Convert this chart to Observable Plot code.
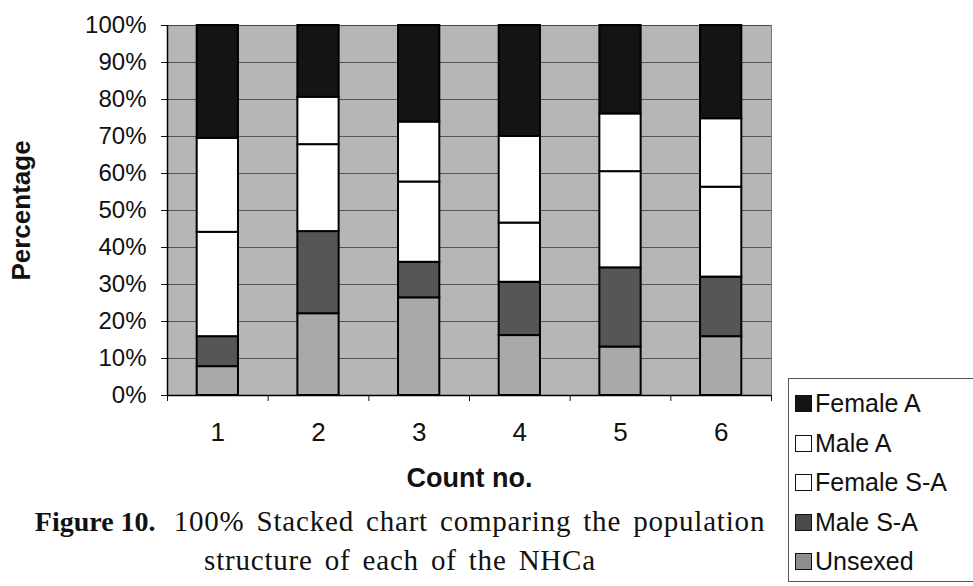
<!DOCTYPE html>
<html>
<head>
<meta charset="utf-8">
<script src="https://cdn.jsdelivr.net/npm/d3@7"></script>
<script src="https://cdn.jsdelivr.net/npm/@observablehq/plot@0.6"></script>
<style>
  body { margin: 0; background: white; }
  #wrap { position: relative; width: 973px; height: 586px; overflow: hidden; font-family: "Liberation Sans", Arial, sans-serif; }
  #caption { position: absolute; left: 30px; top: 502px; width: 740px; font-family: "Liberation Serif", "Times New Roman", serif; font-size: 29px; line-height: 38px; text-align: center; color: #111; white-space: nowrap; letter-spacing: 0.8px; word-spacing: 4px; }
  #caption b { font-size: 28px; letter-spacing: 0; word-spacing: 0; margin-right: 18px; }
  #legend { position: absolute; left: 788px; top: 378px; width: 190px; height: 204px; border: 1px solid #555; background: white; box-sizing: border-box; padding-top: 5px; }
  .item { display: flex; align-items: center; height: 39.5px; font-size: 25px; color: #111; padding-left: 6px; }
  .sw { width: 17px; height: 17px; border: 1px solid #111; box-sizing: border-box; margin-right: 3px; flex: none; }
</style>
</head>
<body>
<div id="wrap">
  <div id="chart"></div>
  <div id="caption"><b>Figure 10.</b>100% Stacked chart comparing the population<br>structure of each of the NHCa</div>
  <div id="legend"></div>
</div>
<script>
// Data (percentages)
const counts = [1, 2, 3, 4, 5, 6];
const series = ["Unsexed", "Male S-A", "Female S-A", "Male A", "Female A"];
const unsexed   = [7.8, 22.1, 26.4, 16.2, 13.1, 15.9];
const maleSA    = [8.1, 22.2,  9.6, 14.4, 21.4, 16.1];
const femaleSA  = [28.2, 23.5, 21.7, 16.0, 26.0, 24.3];
const maleA     = [25.4, 12.8, 16.2, 23.4, 15.6, 18.5];
const femaleA   = [30.5, 19.4, 26.1, 30.0, 23.9, 25.2];
const yTicks = [0, 10, 20, 30, 40, 50, 60, 70, 80, 90, 100];
const legendOrder = ["Female A", "Male A", "Female S-A", "Male S-A", "Unsexed"];

const valuesBySeries = {
  "Unsexed": unsexed, "Male S-A": maleSA, "Female S-A": femaleSA,
  "Male A": maleA, "Female A": femaleA
};
const colors = ["#a9a9a9", "#565656", "#ffffff", "#ffffff", "#141414"];
const swatch = {"Female A": "#141414", "Male A": "#ffffff", "Female S-A": "#ffffff", "Male S-A": "#4a4a4a", "Unsexed": "#8e8e8e"};

const data = series.flatMap(s => counts.map((c, i) => ({count: c, series: s, value: valuesBySeries[s][i]})));
const half = 0.205;
const boundaries = counts.map(c => c - 0.5).concat([counts[counts.length - 1] + 0.5]);

const chart = Plot.plot({
  width: 973,
  height: 500,
  marginLeft: 167,
  marginRight: 202,
  marginTop: 25,
  marginBottom: 105,
  style: {fontFamily: "'Liberation Sans', Arial, sans-serif", fontSize: "24px", color: "#111", background: "white", overflow: "visible"},
  x: {domain: [counts[0] - 0.5, counts[counts.length - 1] + 0.5]},
  y: {domain: [0, 100]},
  color: {domain: series, range: colors},
  marks: [
    Plot.frame({fill: "#b6b6b6", stroke: "#7a7a7a"}),
    Plot.gridY({ticks: yTicks, stroke: "#333", strokeOpacity: 0.75, strokeWidth: 1}),
    Plot.rectY(data, Plot.stackY({
      x1: d => d.count - half,
      x2: d => d.count + half,
      y: "value",
      fill: "series",
      stroke: "#000",
      strokeWidth: 2
    })),
    Plot.ruleY([0], {stroke: "#000", strokeWidth: 1.5}),
    Plot.ruleX([counts[0] - 0.5], {stroke: "#000", strokeWidth: 1.5}),
    Plot.axisY({ticks: yTicks, tickFormat: d => d + "%", tickSize: 6, tickPadding: 15, label: null, fontSize: 24}),
    Plot.axisX({ticks: counts, tickSize: 0, tickPadding: 27, tickFormat: d => String(d), label: null, fontSize: 26}),
    Plot.axisX({ticks: boundaries, tickSize: 6, tickFormat: () => "", label: null}),
    Plot.text(["Count no."], {frameAnchor: "bottom", dy: 91, fontWeight: "bold", fontSize: 27}),
    Plot.text(["Percentage"], {frameAnchor: "left", textAnchor: "middle", rotate: -90, dx: -146, fontWeight: "bold", fontSize: 26})
  ]
});
document.getElementById("chart").appendChild(chart);

const legend = document.getElementById("legend");
for (const s of legendOrder) {
  const row = document.createElement("div");
  row.className = "item";
  const sw = document.createElement("span");
  sw.className = "sw";
  sw.style.background = swatch[s];
  row.appendChild(sw);
  row.appendChild(document.createTextNode(s));
  legend.appendChild(row);
}
</script>
</body>
</html>
